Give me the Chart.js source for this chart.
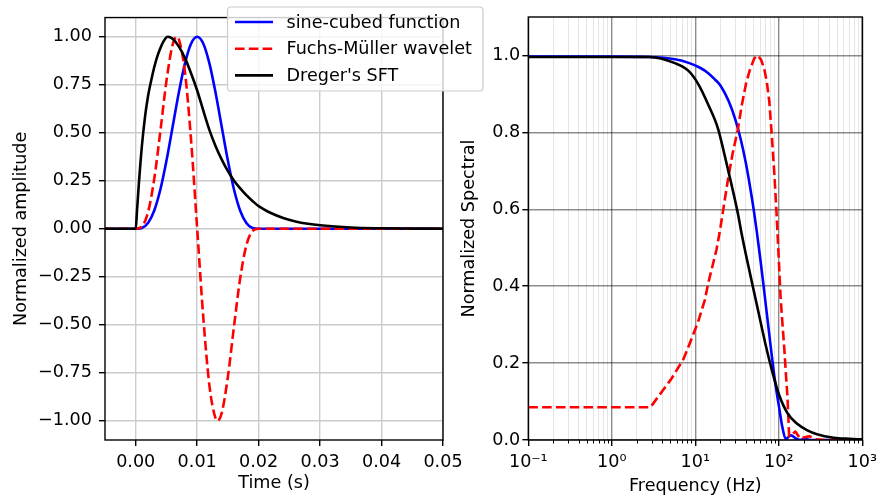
<!DOCTYPE html>
<html>
<head>
<meta charset="utf-8">
<script src="https://cdn.jsdelivr.net/npm/chart.js@4.4.1/dist/chart.umd.min.js"></script>
<style>
  body { margin: 0; background: #fff; }
  #wrap { position: relative; width: 883px; height: 500px; }
  #spectrum { position: absolute; left: 440px; top: 0; }
  #pulses { position: absolute; left: 0; top: 0; z-index: 2; }
</style>
</head>
<body>
<div id="wrap">
  <canvas id="spectrum" width="443" height="500"></canvas>
  <canvas id="pulses" width="490" height="500"></canvas>
</div>
<script>
const seriesNames = ['sine-cubed function', 'Fuchs-Müller wavelet', "Dreger's SFT"];

// time-domain pulses: time (s) and normalized amplitude
const sineTime = [-0.005, 0, 0.001, 0.002, 0.003, 0.004, 0.005, 0.006, 0.007, 0.008, 0.009, 0.010,
  0.011, 0.012, 0.013, 0.014, 0.015, 0.016, 0.017, 0.018, 0.019, 0.020, 0.050];
const sineAmp = [0, 0, 0.004, 0.030, 0.094, 0.203, 0.354, 0.530, 0.707, 0.860, 0.964, 1.000,
  0.964, 0.860, 0.707, 0.530, 0.354, 0.203, 0.094, 0.030, 0.004, 0, 0];

const fmTime = [-0.005, 0, 0.001, 0.002, 0.003, 0.004, 0.005, 0.006, 0.0067, 0.007, 0.008, 0.009, 0.010,
  0.011, 0.012, 0.013, 0.0133, 0.014, 0.015, 0.016, 0.017, 0.018, 0.019, 0.020, 0.050];
const fmAmp = [0, 0, 0.012, 0.086, 0.257, 0.506, 0.770, 0.958, 1.000, 0.989, 0.819, 0.464, 0,
  -0.464, -0.819, -0.989, -1.000, -0.958, -0.770, -0.506, -0.257, -0.086, -0.012, 0, 0];

const sftTime = [-0.005, 0, 0.0002, 0.0005, 0.001, 0.0015, 0.002, 0.0025, 0.003, 0.0035, 0.004, 0.0045,
  0.0052, 0.006, 0.007, 0.008, 0.009, 0.010, 0.011, 0.012, 0.013, 0.014, 0.015, 0.016, 0.017, 0.018,
  0.019, 0.020, 0.022, 0.024, 0.026, 0.028, 0.030, 0.035, 0.040, 0.045, 0.050];
const sftAmp = [0, 0, 0.09, 0.23, 0.43, 0.58, 0.69, 0.77, 0.84, 0.897, 0.94, 0.975,
  1.000, 0.99, 0.95, 0.89, 0.81, 0.72, 0.615, 0.514, 0.43, 0.36, 0.30, 0.25, 0.21, 0.175,
  0.145, 0.118, 0.082, 0.056, 0.038, 0.026, 0.018, 0.0065, 0.0025, 0.001, 0.0004];

// amplitude spectra: frequency (Hz) and normalized spectral amplitude
const sineFreq = [0.1, 1, 2.85, 5.7, 8.5, 11.4, 14.3, 17.1, 20, 25, 30, 35, 40, 45, 50, 55, 60, 65,
  70, 75, 80, 85, 90, 100, 110, 121, 140, 160, 180, 200, 250, 1000];
const sineSpec = [0.997, 0.997, 0.996, 0.99, 0.98, 0.968, 0.954, 0.938, 0.922, 0.882, 0.835, 0.782,
  0.724, 0.662, 0.6, 0.536, 0.472, 0.41, 0.35, 0.295, 0.243, 0.196, 0.154, 0.09, 0.035, 0.003, 0.012,
  0.004, 0, 0.003, 0, 0];

const fmFreq = [0.1, 2.9, 5.2, 7.2, 8.3, 9.9, 10.9, 13, 14.3, 17.9, 19.6, 24.6, 28, 32.3, 36, 40.6, 45,
  51, 55.8, 61, 67, 72, 77, 82, 88, 93, 97, 101, 105, 110, 116, 121, 127, 133, 145, 158, 180, 230, 280,
  350, 1000];
const fmSpec = [0.085, 0.085, 0.16, 0.21, 0.243, 0.286, 0.31, 0.364, 0.408, 0.494, 0.54, 0.677, 0.745,
  0.807, 0.87, 0.928, 0.962, 0.993, 1.0, 0.99, 0.965, 0.93, 0.88, 0.8, 0.7, 0.61, 0.53, 0.45, 0.373,
  0.31, 0.243, 0.18, 0.113, 0.01, 0.015, 0.022, 0.004, 0.01, 0.002, 0, 0];

const sftFreq = [0.1, 2.8, 5.7, 8.3, 10.9, 14.3, 18.7, 22.5, 26.9, 32.3, 36, 40.6, 48.8, 58.5, 70, 84,
  101, 127, 166, 220, 287, 453, 700, 1000];
const sftSpec = [0.996, 0.996, 0.98, 0.96, 0.925, 0.872, 0.81, 0.74, 0.668, 0.59, 0.535, 0.48, 0.40,
  0.322, 0.245, 0.176, 0.117, 0.07, 0.042, 0.025, 0.015, 0.006, 0.003, 0.0015];

// ticks
const timeTicks = [0, 0.01, 0.02, 0.03, 0.04, 0.05];
const timeLabels = ['0.00', '0.01', '0.02', '0.03', '0.04', '0.05'];
const ampTicks = [-1, -0.75, -0.5, -0.25, 0, 0.25, 0.5, 0.75, 1];
const ampLabels = ['\u22121.00', '\u22120.75', '\u22120.50', '\u22120.25', '0.00', '0.25', '0.50', '0.75', '1.00'];
const freqDecades = [0.1, 1, 10, 100, 1000];
const freqLabels = ['10\u207b\u00b9', '10\u2070', '10\u00b9', '10\u00b2', '10\u00b3'];
const specTicks = [0, 0.2, 0.4, 0.6, 0.8, 1.0];
const specLabels = ['0.0', '0.2', '0.4', '0.6', '0.8', '1.0'];

const FONT = { family: 'DejaVu Sans', size: 17.6 };
Chart.defaults.font.family = FONT.family;
Chart.defaults.font.size = FONT.size;
Chart.defaults.color = '#000';

const lineColors = ['#0000ff', '#ff0000', '#000000'];
const dash = [9.6, 4.2];
const LW = 2.6;

function points(xs, ys) {
  return xs.map((x, i) => ({ x: x, y: ys[i] }));
}

function series(i, xs, ys, smooth) {
  return {
    label: seriesNames[i],
    data: points(xs, ys),
    borderColor: lineColors[i],
    borderWidth: LW,
    borderDash: i === 1 ? dash : [],
    borderJoinStyle: 'round',
    pointRadius: 0,
    fill: false,
    cubicInterpolationMode: smooth ? 'monotone' : 'default',
    tension: 0,
    order: 3 - i
  };
}

// black box round the plotting area
const frame = {
  id: 'frame',
  afterDatasetsDraw(chart) {
    const { ctx, chartArea: a } = chart;
    ctx.save();
    ctx.strokeStyle = '#000';
    ctx.lineWidth = 1.4;
    ctx.strokeRect(a.left, a.top, a.right - a.left, a.bottom - a.top);
    ctx.restore();
  }
};

const pulseLegend = {
  id: 'pulseLegend',
  afterDraw(chart) {
    const { ctx } = chart;
    ctx.save();
    ctx.beginPath();
    ctx.roundRect(227.5, 7, 255.5, 84, 3.5);
    ctx.fillStyle = 'rgba(255,255,255,0.8)';
    ctx.fill();
    ctx.strokeStyle = '#cccccc';
    ctx.lineWidth = 1.2;
    ctx.stroke();
    ctx.font = FONT.size + 'px "' + FONT.family + '"';
    ctx.textBaseline = 'middle';
    seriesNames.forEach((name, i) => {
      const y = 22 + i * 26.7;
      ctx.beginPath();
      ctx.setLineDash(i === 1 ? dash : []);
      ctx.strokeStyle = lineColors[i];
      ctx.lineWidth = LW;
      ctx.moveTo(235, y);
      ctx.lineTo(273, y);
      ctx.stroke();
      ctx.setLineDash([]);
      ctx.fillStyle = '#000';
      ctx.fillText(name, 286.5, y + 1);
    });
    ctx.restore();
  }
};

// short minor tick marks under the log axis
const minorTicks = {
  id: 'minorTicks',
  afterDraw(chart) {
    const { ctx, chartArea: a, scales: { x } } = chart;
    ctx.save();
    ctx.strokeStyle = '#000';
    ctx.lineWidth = 1;
    x.ticks.forEach(t => {
      if (t.major) return;
      const px = Math.round(x.getPixelForValue(t.value)) + 0.5;
      ctx.beginPath();
      ctx.moveTo(px, a.bottom);
      ctx.lineTo(px, a.bottom + 3.5);
      ctx.stroke();
    });
    ctx.restore();
  }
};

const common = {
  responsive: false,
  animation: false,
  events: [],
  plugins: { legend: { display: false }, tooltip: { enabled: false } }
};

new Chart(document.getElementById('pulses'), {
  type: 'line',
  data: {
    datasets: [
      series(0, sineTime, sineAmp, true),
      series(1, fmTime, fmAmp, true),
      series(2, sftTime, sftAmp, true)
    ]
  },
  options: Object.assign({}, common, {
    layout: { padding: { top: 17, right: 47, left: 0, bottom: 0 } },
    scales: {
      x: {
        type: 'linear',
        min: -0.005,
        max: 0.05,
        afterBuildTicks: s => { s.ticks = timeTicks.map(v => ({ value: v })); },
        afterFit: s => { s.height = 60; },
        ticks: {
          autoSkip: false, maxRotation: 0, padding: 6,
          callback: v => timeLabels[timeTicks.indexOf(v)]
        },
        grid: { color: '#cbcbcb', lineWidth: 1.4, tickColor: '#000', tickLength: 6, tickWidth: 1.4 },
        border: { display: false },
        title: { display: true, text: 'Time (s)', padding: { top: 0, bottom: 5.6 } }
      },
      y: {
        type: 'linear',
        min: -1.1,
        max: 1.1,
        afterBuildTicks: s => { s.ticks = ampTicks.map(v => ({ value: v })); },
        afterFit: s => { s.width = 105; },
        ticks: {
          autoSkip: false, padding: 7,
          callback: v => ampLabels[ampTicks.indexOf(v)]
        },
        grid: { color: '#cbcbcb', lineWidth: 1.4, tickColor: '#000', tickLength: 6, tickWidth: 1.4 },
        border: { display: false },
        title: { display: true, text: 'Normalized amplitude', padding: { top: 11, bottom: 0 } }
      }
    }
  }),
  plugins: [frame, pulseLegend]
});

new Chart(document.getElementById('spectrum'), {
  type: 'line',
  data: {
    datasets: [
      series(0, sineFreq, sineSpec, true),
      series(1, fmFreq, fmSpec, false),
      series(2, sftFreq, sftSpec, true)
    ]
  },
  options: Object.assign({}, common, {
    layout: { padding: { top: 17, right: 17, left: 0, bottom: 0 } },
    scales: {
      x: {
        type: 'logarithmic',
        min: 0.1,
        max: 1000,
        afterBuildTicks: s => {
          const t = [];
          freqDecades.forEach((d, i) => {
            t.push({ value: d, major: true });
            if (i < freqDecades.length - 1) {
              for (let m = 2; m <= 9; m++) t.push({ value: d * m, major: false });
            }
          });
          s.ticks = t;
        },
        afterFit: s => { s.height = 60; },
        ticks: {
          autoSkip: false, maxRotation: 0, minRotation: 0, padding: 6,
          callback: (v, i, ticks) => ticks[i].major ? freqLabels[freqDecades.indexOf(v)] : ''
        },
        grid: {
          color: c => c.tick && c.tick.major ? 'rgba(0,0,0,0.45)' : 'rgba(0,0,0,0.1)',
          lineWidth: c => c.tick && c.tick.major ? 1.4 : 1,
          tickColor: c => c.tick && c.tick.major ? '#000' : 'rgba(0,0,0,0)',
          tickLength: 6, tickWidth: 1.4
        },
        border: { display: false },
        title: { display: true, text: 'Frequency (Hz)', padding: { top: 0, bottom: 2.7 } }
      },
      y: {
        type: 'linear',
        min: 0,
        max: 1.1,
        afterBuildTicks: s => { s.ticks = specTicks.map(v => ({ value: v })); },
        afterFit: s => { s.width = 88.3; },
        ticks: {
          autoSkip: false, padding: 2,
          callback: v => specLabels[specTicks.indexOf(v)]
        },
        grid: { color: 'rgba(0,0,0,0.45)', lineWidth: 1.4, tickColor: '#000', tickLength: 6, tickWidth: 1.4 },
        border: { display: false },
        title: { display: true, text: 'Normalized Spectral', padding: { top: 18.5, bottom: 0 } }
      }
    }
  }),
  plugins: [frame, minorTicks]
});
</script>
</body>
</html>
